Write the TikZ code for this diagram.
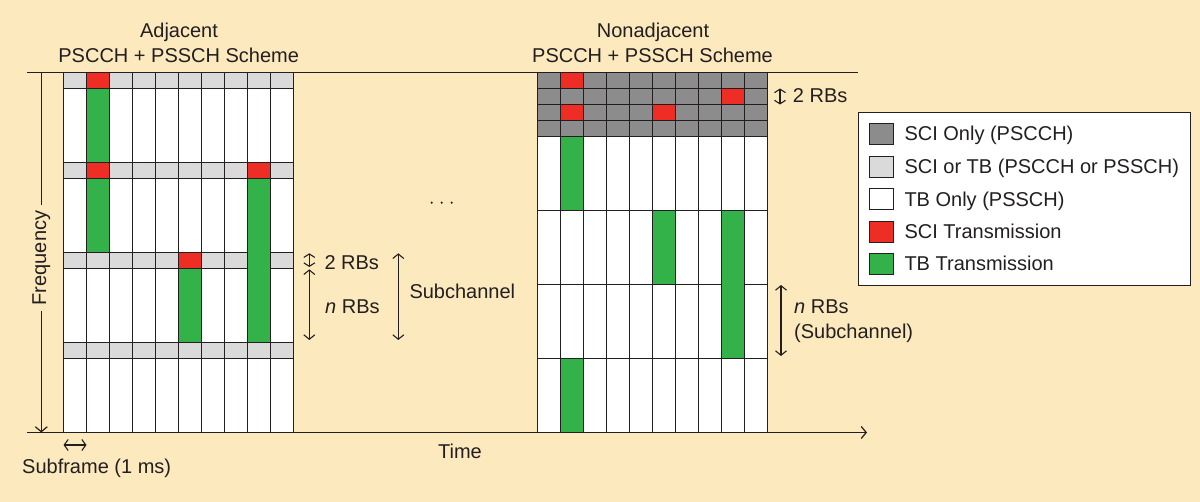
\documentclass[tikz,border=0pt]{standalone}
\usepackage{fontspec}
\setmainfont{Liberation Sans}
\usetikzlibrary{arrows.meta}
\definecolor{bg}{RGB}{253,233,190}
\definecolor{ink}{RGB}{35,31,32}
\definecolor{dgray}{RGB}{140,140,140}
\definecolor{lgray}{RGB}{218,218,218}
\definecolor{sred}{RGB}{238,45,36}
\definecolor{sgreen}{RGB}{52,178,74}
\tikzset{
  cell/.style={draw=ink, line width=1.3pt},
  axis/.style={draw=ink, line width=1.2pt},
  dim/.style={draw=ink, line width=1.1pt, {Straight Barb[length=4.5pt,width=11pt]}-{Straight Barb[length=4.5pt,width=11pt]}},
  lbl/.style={text=ink, inner sep=0pt, font=\fontsize{20}{24}\selectfont},
  swatch/.style={draw=ink, line width=1.1pt, minimum width=24pt, minimum height=21pt, inner sep=0pt},
}
\begin{document}
\begin{tikzpicture}[x=1pt,y=-1pt]
\useasboundingbox[fill=bg] (0,0) rectangle (1200,502);

% ---------- left grid (adjacent) ----------
\foreach \k in {0,...,3}{
  \foreach \c in {0,...,9}{
    \draw[cell, fill=lgray] ({63.5+23*\c},{72.5+90*\k}) rectangle ++(23,16);
    \draw[cell, fill=white] ({63.5+23*\c},{88.5+90*\k}) rectangle ++(23,74);
  }
}
% SCI transmissions
\draw[cell, fill=sred] (86.5,72.5) rectangle ++(23,16);
\draw[cell, fill=sred] (86.5,162.5) rectangle ++(23,16);
\draw[cell, fill=sred] (247.5,162.5) rectangle ++(23,16);
\draw[cell, fill=sred] (178.5,252.5) rectangle ++(23,16);
% TB transmissions
\draw[cell, fill=sgreen] (86.5,88.5) rectangle (109.5,162.5);
\draw[cell, fill=sgreen] (86.5,178.5) rectangle (109.5,252.5);
\draw[cell, fill=sgreen] (247.5,178.5) rectangle (270.5,342.5);
\draw[cell, fill=sgreen] (178.5,268.5) rectangle (201.5,342.5);

% ---------- right grid (nonadjacent) ----------
\foreach \c in {0,...,9}{
  \foreach \j in {0,...,3}{
    \draw[cell, fill=dgray] ({537.5+23*\c},{72.5+16*\j}) rectangle ++(23,16);
  }
  \foreach \m in {0,...,3}{
    \draw[cell, fill=white] ({537.5+23*\c},{136.5+74*\m}) rectangle ++(23,74);
  }
}
\draw[cell, fill=sred] (560.5,72.5) rectangle ++(23,16);
\draw[cell, fill=sred] (721.5,88.5) rectangle ++(23,16);
\draw[cell, fill=sred] (560.5,104.5) rectangle ++(23,16);
\draw[cell, fill=sred] (652.5,104.5) rectangle ++(23,16);
\draw[cell, fill=sgreen] (560.5,136.5) rectangle (583.5,210.5);
\draw[cell, fill=sgreen] (652.5,210.5) rectangle (675.5,284.5);
\draw[cell, fill=sgreen] (721.5,210.5) rectangle (744.5,358.5);
\draw[cell, fill=sgreen] (560.5,358.5) rectangle (583.5,432.5);

% ---------- axes ----------
\coordinate (topL) at (27,72.5);
\coordinate (topR) at (858,72.5);
\coordinate (botL) at (27,432.5);
\coordinate (botR) at (867,432.5);
\coordinate (fTop) at (41.3,72.5);
\coordinate (fBot) at (41.3,432.5);
\draw[axis] (topL) -- (topR);
\draw[axis, -{Straight Barb[length=5pt,width=12pt]}] (botL) -- (botR);
\draw[axis, -{Straight Barb[length=5pt,width=12pt]}] (fTop) -- (fBot);
\node[lbl, fill=bg, rotate=90, inner xsep=6pt] (freq) at (41.3,258) {Frequency};

% ---------- titles ----------
\node[lbl, anchor=base] (adj) at (179,38) {Adjacent};
\node[lbl, anchor=base] (adjs) at (178.7,62.7) {PSCCH + PSSCH Scheme};
\node[lbl, anchor=base] (nadj) at (653,38) {Nonadjacent};
\node[lbl, anchor=base] (nadjs) at (652.5,62.7) {PSCCH + PSSCH Scheme};

% ---------- left dimension labels ----------
\coordinate (a1) at (309.3,253.3); \coordinate (a2) at (309.3,267);
\coordinate (b1) at (309.3,269.3); \coordinate (b2) at (309.3,340);
\coordinate (c1) at (398.3,253.3); \coordinate (c2) at (398.3,340);
\draw[dim, {Straight Barb[length=3.5pt,width=11pt]}-{Straight Barb[length=3.5pt,width=11pt]}] (a1) -- (a2);
\draw[dim] (b1) -- (b2);
\draw[dim] (c1) -- (c2);
\node[lbl, anchor=base west] (rb2L) at (324.3,270) {2 RBs};
\node[lbl, anchor=base west] (rbnL) at (325,313.3) {\textit{n} RBs};
\node[lbl, anchor=base west] (subL) at (409.3,299) {Subchannel};

% ---------- right dimension labels ----------
\coordinate (d1) at (780,88.5); \coordinate (d2) at (780,104.5);
\coordinate (e1) at (781,285); \coordinate (e2) at (781,356);
\draw[dim, {Straight Barb[length=3.5pt,width=11pt]}-{Straight Barb[length=3.5pt,width=11pt]}] (d1) -- (d2);
\draw[dim] (e1) -- (e2);
\node[lbl, anchor=base west] (rb2R) at (792.7,103) {2 RBs};
\node[lbl, anchor=base west] (rbnR) at (794,313.3) {\textit{n} RBs};
\node[lbl, anchor=base west] (subR) at (794,338.5) {(Subchannel)};

% ---------- subframe, time, dots ----------
\coordinate (s1) at (63.5,445); \coordinate (s2) at (86.5,445);
\draw[dim, {Straight Barb[length=4pt,width=11pt]}-{Straight Barb[length=4pt,width=11pt]}] (s1) -- (s2);
\node[lbl, anchor=base west] (subf) at (22,474) {Subframe (1 ms)};
\node[lbl, anchor=base] (time) at (460,458.3) {Time};
\foreach \x in {431.7,441.7,451.7}{
  \fill[ink] (\x,202.7) circle (1.2);
}

% ---------- legend ----------
\draw[draw=ink, line width=1.2pt, fill=white] (858.3,112.3) rectangle (1190.7,285.7);
\node[swatch, fill=dgray] (k1) at (881.3,133.7) {};
\node[swatch, fill=lgray] (k2) at (881.3,167) {};
\node[swatch, fill=white] (k3) at (881.3,199.3) {};
\node[swatch, fill=sred] (k4) at (881.3,232) {};
\node[swatch, fill=sgreen] (k5) at (881.3,263.8) {};
\node[lbl, anchor=base west] (t1) at (904.3,140.7) {SCI Only (PSCCH)};
\node[lbl, anchor=base west] (t2) at (904.3,174) {SCI or TB (PSCCH or PSSCH)};
\node[lbl, anchor=base west] (t3) at (904.3,206.3) {TB Only (PSSCH)};
\node[lbl, anchor=base west] (t4) at (904.3,239) {SCI Transmission};
\node[lbl, anchor=base west] (t5) at (904.3,270.8) {TB Transmission};
\end{tikzpicture}
\end{document}
